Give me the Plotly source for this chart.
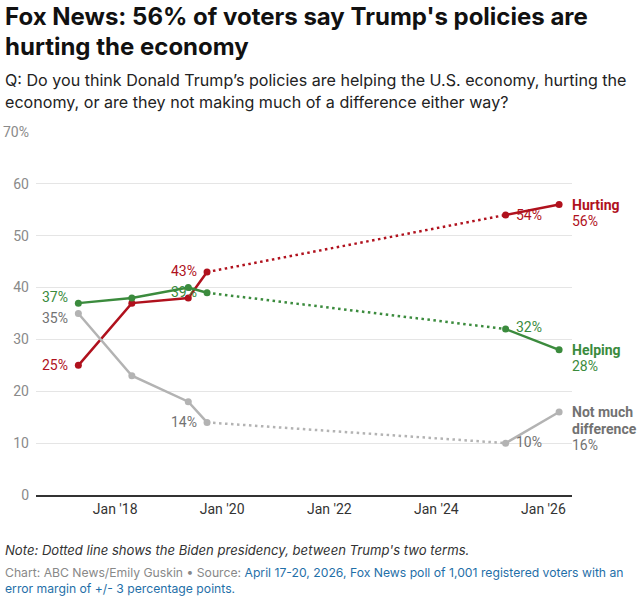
import plotly.graph_objects as go

# ---- data ----
dates = ["2017-04-25", "2018-04-25", "2019-05-15", "2019-09-20", "2025-04-18", "2026-04-18"]
hurting = [25, 37, 38, 43, 54, 56]
helping = [37, 38, 40, 39, 32, 28]
no_diff = [35, 23, 18, 14, 10, 16]
series_names = ["Hurting", "Helping", "Not much<br>difference"]
x_tickvals = ["2018-01-01", "2020-01-01", "2022-01-01", "2024-01-01", "2026-01-01"]
x_ticktext = ["Jan '18", "Jan '20", "Jan '22", "Jan '24", "Jan '26"]
y_tickvals = [0, 10, 20, 30, 40, 50, 60, 70]
y_ticktext = ["0", "10", "20", "30", "40", "50", "60", "70%"]

RED = "#b0111d"
GREEN = "#3b8b3d"
GRAY_LINE = "#b3b3b3"
GRAY_TEXT = "#727272"

FONT = "Roboto"
HFONT = "Inter"
W, H = 638, 600
L, R, T, B = 36, 66, 132, 105
PW, PH = W - L - R, H - T - B


def px_x(p):
    return (p - L) / PW


def px_y(p):
    return (H - B - p) / PH


fig = go.Figure()

series = [
    (hurting, RED, RED, series_names[0]),
    (helping, GREEN, GREEN, series_names[1]),
    (no_diff, GRAY_LINE, GRAY_TEXT, series_names[2]),
]

for vals, lc, tc, name in series:
    segs = [(0, 4, "solid"), (3, 5, "dot"), (4, 6, "solid")]
    for a, b, dash in segs:
        fig.add_trace(go.Scatter(
            x=dates[a:b], y=vals[a:b], mode="lines",
            line=dict(color=lc, width=2.5,
                      dash="2.5px,3.5px" if dash == "dot" else "solid"),
            hoverinfo="skip", showlegend=False))
    fig.add_trace(go.Scatter(
        x=dates, y=vals, mode="markers",
        marker=dict(color=lc, size=7),
        hoverinfo="skip", showlegend=False))

ann = []

# point labels: (series index, point index, side, yshift)
label_spec = [
    (0, 0, "left", 0), (1, 0, "left", 6), (2, 0, "left", -4),
    (0, 3, "left", 1), (1, 3, "left", 1), (2, 3, "left", 0),
    (0, 4, "right", 0), (1, 4, "right", 2), (2, 4, "right", 1),
]
for si, pi, side, ys in label_spec:
    vals, lc, tc, name = series[si]
    ann.append(dict(
        x=dates[pi], y=vals[pi], xref="x", yref="y",
        text=f"{vals[pi]}%", showarrow=False,
        xanchor="right" if side == "left" else "left",
        xshift=-8 if side == "left" else 8, yshift=ys,
        font=dict(family=FONT, size=14, color=tc)))

# end labels
for vals, lc, tc, name in series:
    lines = name.split("<br>")
    for k, ln in enumerate(lines):
        ann.append(dict(
            x=dates[-1], y=vals[-1], xref="x", yref="y",
            text=f"<b>{ln}</b>", showarrow=False, xanchor="left",
            xshift=11, yshift=-16.5 * k,
            font=dict(family=FONT, size=14, color=tc)))
    ann.append(dict(
        x=dates[-1], y=vals[-1], xref="x", yref="y",
        text=f"{vals[-1]}%", showarrow=False, xanchor="left",
        xshift=11, yshift=-16.5 * len(lines),
        font=dict(family=FONT, size=14, color=tc)))

# title, subtitle, notes
texts = [
    ("Fox News: 56% of voters say Trump's policies are", 16, 24, "#111111", True, False),
    ("hurting the economy", 46, 24, "#111111", True, False),
    ("Q: Do you think Donald Trump’s policies are helping the U.S. economy, hurting the", 80, 16.1, "#222222", False, False),
    ("economy, or are they not making much of a difference either way?", 102, 16.1, "#222222", False, False),
    ("Note: Dotted line shows the Biden presidency, between Trump's two terms.", 550, 13.1, "#333333", False, True),
    ("Chart: ABC News/Emily Guskin • Source: <span style='color:#1f6fa8'>April 17-20, 2026, Fox News poll of 1,001 registered voters with an</span>", 572, 12.2, "#888888", False, False),
    ("<span style='color:#1f6fa8'>error margin of +/- 3 percentage points.</span>", 588, 12.2, "#888888", False, False),
]
for t, yy, sz, col, bold, ital in texts:
    s = t
    if bold:
        s = f"<b>{s}</b>"
    if ital:
        s = f"<i>{s}</i>"
    ann.append(dict(
        x=px_x(3), y=px_y(yy), xref="paper", yref="paper",
        text=s, showarrow=False, xanchor="left", yanchor="middle",
        font=dict(family=HFONT, size=sz, color=col)))

fig.update_layout(
    width=W, height=H,
    margin=dict(l=L, r=R, t=T, b=B, autoexpand=False),
    paper_bgcolor="white", plot_bgcolor="white",
    font=dict(family=FONT),
    annotations=ann,
    showlegend=False,
    xaxis=dict(
        type="date", range=["2016-07-10", "2026-07-15"],
        tickvals=x_tickvals, ticktext=x_ticktext,
        showgrid=False, zeroline=False, automargin=False,
        showline=True, linecolor="#333333", linewidth=2,
        ticks="", tickfont=dict(family=FONT, size=14, color="#333333"),
        fixedrange=True),
    yaxis=dict(
        range=[0, 70], tickvals=y_tickvals, ticktext=y_ticktext,
        showgrid=True, gridcolor="#e5e5e5", gridwidth=1,
        zeroline=False, showline=False, ticks="", automargin=False,
        ticklabelstandoff=6,
        tickfont=dict(family=FONT, size=14, color="#8a8a8a"),
        fixedrange=True),
)

fig.write_html("out.html")
